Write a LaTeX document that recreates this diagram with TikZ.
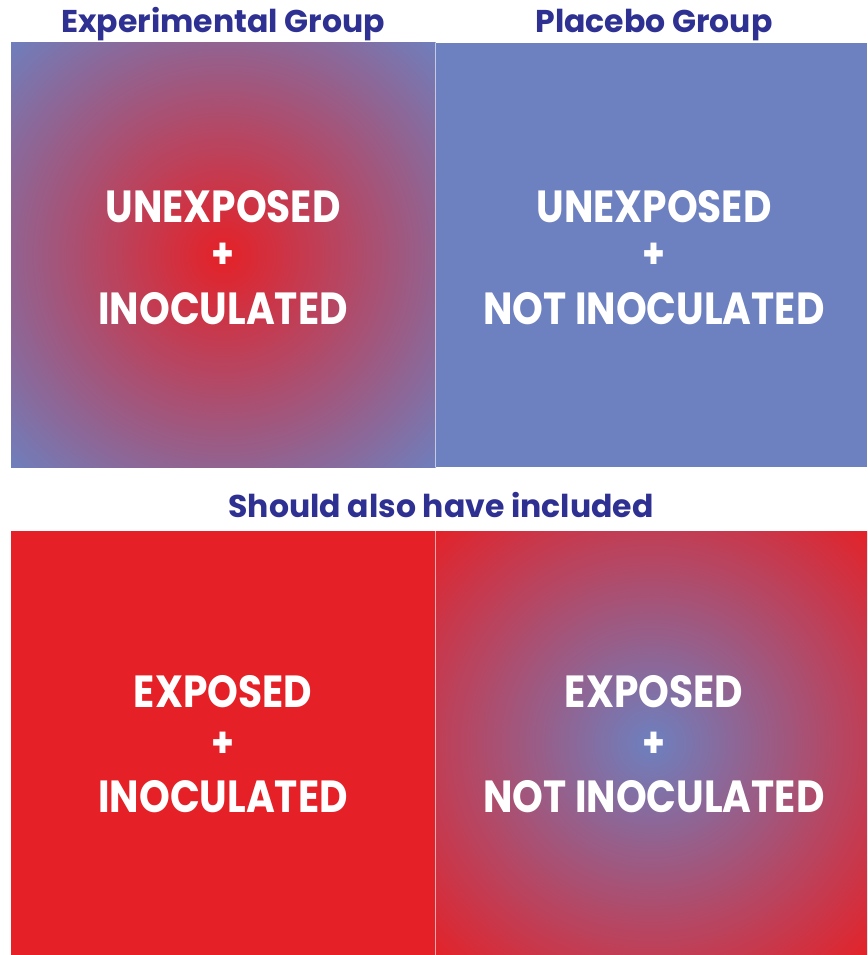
\documentclass[tikz,border=0pt]{standalone}
\usepackage{fontspec}
\setmainfont{Poppins}
\newfontfamily\cellfont[FakeStretch=0.87]{Poppins}
\definecolor{myred}{RGB}{229,33,39}
\definecolor{myblue}{RGB}{109,128,191}
\definecolor{titleblue}{RGB}{46,49,146}
\pgfdeclareradialshading{redcenter}{\pgfpointorigin}{rgb(0bp)=(0.898,0.129,0.153); rgb(36bp)=(0.427,0.502,0.749); rgb(50bp)=(0.427,0.502,0.749)}
\pgfdeclareradialshading{bluecenter}{\pgfpointorigin}{rgb(0bp)=(0.427,0.502,0.749); rgb(36bp)=(0.898,0.129,0.153); rgb(50bp)=(0.898,0.129,0.153)}
\tikzset{
  title/.style={font=\bfseries\fontsize{31.5}{31.5}\selectfont, text=titleblue, anchor=base, inner sep=0pt},
  celltext/.style={font=\cellfont\bfseries\fontsize{45}{45}\selectfont, text=white, anchor=base, inner sep=0pt},
  plus/.style={font=\cellfont\bfseries\fontsize{42}{42}\selectfont, text=white, anchor=center, inner sep=0pt},
  divider/.style={draw=white, draw opacity=0.6, line width=1.2pt}
}
\begin{document}
\begin{tikzpicture}[x=1pt,y=-1pt]
\useasboundingbox (0,0) rectangle (867,955);
% cells
\shade[shading=redcenter] (11,43) rectangle (435.5,467);
\fill[myblue] (435.5,43) rectangle (867,467);
\fill[myred] (11,531) rectangle (435.5,955);
\shade[shading=bluecenter] (435.5,531) rectangle (867,955);
\coordinate (dt1) at (435.5,43);
\coordinate (dt2) at (435.5,467);
\coordinate (db1) at (435.5,531);
\coordinate (db2) at (435.5,955);
\draw[divider] (dt1) -- (dt2);
\draw[divider] (db1) -- (db2);
% titles
\node[title] (t1) at (223,33) {Experimental Group};
\node[title] (t2) at (654,33) {Placebo Group};
\node[title] (t3) at (441,517) {Should also have included};
% top-left
\node[celltext] (a1) at (223,222) {UNEXPOSED};
\node[plus] (a2) at (223,256) {+};
\node[celltext] (a3) at (223,324) {INOCULATED};
% top-right
\node[celltext] (b1) at (654,222) {UNEXPOSED};
\node[plus] (b2) at (654,256) {+};
\node[celltext] (b3) at (654,324) {NOT INOCULATED};
% bottom-left
\node[celltext] (c1) at (223,707) {EXPOSED};
\node[plus] (c2) at (223,745) {+};
\node[celltext] (c3) at (223,812) {INOCULATED};
% bottom-right
\node[celltext] (d1) at (654,707) {EXPOSED};
\node[plus] (d2) at (654,745) {+};
\node[celltext] (d3) at (654,812) {NOT INOCULATED};
\end{tikzpicture}
\end{document}
